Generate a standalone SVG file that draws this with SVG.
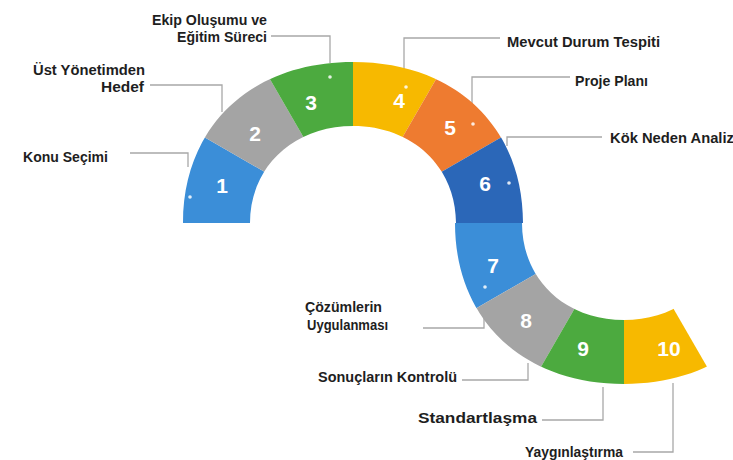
<svg xmlns="http://www.w3.org/2000/svg" xmlns:xlink="http://www.w3.org/1999/xlink" width="733" height="460" viewBox="0 0 733 460">
<style>
.lbl{font-family:"Liberation Sans",Arial,sans-serif;font-weight:bold;font-size:14px;fill:#1e1e1e}
.num{font-family:"Liberation Sans",Arial,sans-serif;font-weight:bold;font-size:21px;fill:#ffffff;text-anchor:middle}
.lead{fill:none;stroke:#a8a8a8;stroke-width:1.3}
.dot{fill:#ffffff;opacity:0.85}
.blue{fill:#3b8ed8}.gray{fill:#a4a4a4}.green{fill:#4caa3f}.gold{fill:#f7b900}.orange{fill:#ee7b30}.dblue{fill:#2b67b8}
</style>
<defs>
<path id="upperBand" d="M183,223 C183,126.4 251,62 353,62 C455,62 523,126.4 523,223 L456,223 C456,167 412.7,126 353,126 C293.3,126 250,167 250,223 Z"/>
<path id="lowerBand" d="M455,223 C455,319.6 522.6,384 624,384 C725.4,384 793,319.6 793,223 L726,223 C726,279.3 683.2,320 624,320 C564.8,320 522,279.3 522,223 Z"/>
<clipPath id="w1"><polygon points="353,223 33,235 75.9,63"/></clipPath>
<clipPath id="w2"><polygon points="353,223 75.9,63 193,-54.1"/></clipPath>
<clipPath id="w3"><polygon points="353,223 193,-54.1 353,-97"/></clipPath>
<clipPath id="w4"><polygon points="353,223 353,-97 513,-54.1"/></clipPath>
<clipPath id="w5"><polygon points="353,223 513,-54.1 630.1,63"/></clipPath>
<clipPath id="w6"><polygon points="353,223 630.1,63 673,235"/></clipPath>
<clipPath id="w7"><polygon points="624,223 304,211 346.9,383"/></clipPath>
<clipPath id="w8"><polygon points="624,223 346.9,383 464,500.1"/></clipPath>
<clipPath id="w9"><polygon points="624,223 464,500.1 624,543"/></clipPath>
<clipPath id="w10"><polygon points="624,223 624,543 784,500.1"/></clipPath>
</defs>
<rect width="733" height="460" fill="#ffffff"/>
<g id="connectors">
<path class="lead" d="M130,153 H188 V167"/>
<path class="lead" d="M150,85 H222 V112"/>
<path class="lead" d="M271,36 H330 V63"/>
<path class="lead" d="M500,38 H404 V83"/>
<path class="lead" d="M570,77 H472 V115"/>
<path class="lead" d="M602,137 H507 V146"/>
<path class="lead" d="M423,328 H484 V317"/>
<path class="lead" d="M462,380 H528 V363"/>
<path class="lead" d="M542,420 H603 V387"/>
<path class="lead" d="M633,452 H673 V383"/>
</g>
<g id="step1"><use xlink:href="#upperBand" class="blue" clip-path="url(#w1)"/><text class="num" x="222" y="193">1</text><circle class="dot" cx="190" cy="197" r="1.8"/></g>
<g id="step2"><use xlink:href="#upperBand" class="gray" clip-path="url(#w2)"/><text class="num" x="255" y="141">2</text></g>
<g id="step3"><use xlink:href="#upperBand" class="green" clip-path="url(#w3)"/><text class="num" x="311" y="110">3</text><circle class="dot" cx="330" cy="77" r="1.8"/></g>
<g id="step4"><use xlink:href="#upperBand" class="gold" clip-path="url(#w4)"/><text class="num" x="399" y="108">4</text><circle class="dot" cx="406" cy="87" r="1.8"/></g>
<g id="step5"><use xlink:href="#upperBand" class="orange" clip-path="url(#w5)"/><text class="num" x="450" y="135">5</text><circle class="dot" cx="473" cy="124" r="1.8"/></g>
<g id="step6"><use xlink:href="#upperBand" class="dblue" clip-path="url(#w6)"/><text class="num" x="485" y="191">6</text><circle class="dot" cx="509" cy="183" r="1.8"/></g>
<g id="step7"><use xlink:href="#lowerBand" class="blue" clip-path="url(#w7)"/><text class="num" x="493" y="273">7</text><circle class="dot" cx="485" cy="287" r="1.8"/></g>
<g id="step8"><use xlink:href="#lowerBand" class="gray" clip-path="url(#w8)"/><text class="num" x="526" y="328">8</text></g>
<g id="step9"><use xlink:href="#lowerBand" class="green" clip-path="url(#w9)"/><text class="num" x="583" y="356">9</text></g>
<g id="step10"><use xlink:href="#lowerBand" class="gold" clip-path="url(#w10)"/><text class="num" x="669" y="356">10</text></g>
<g id="labels">
<text class="lbl" x="23" y="162" textLength="85" lengthAdjust="spacingAndGlyphs">Konu Seçimi</text>
<text class="lbl" x="33" y="75" textLength="112" lengthAdjust="spacingAndGlyphs">Üst Yönetimden</text>
<text class="lbl" x="101" y="92" textLength="43" lengthAdjust="spacingAndGlyphs">Hedef</text>
<text class="lbl" x="152" y="25" textLength="115" lengthAdjust="spacingAndGlyphs">Ekip Oluşumu ve</text>
<text class="lbl" x="177" y="42" textLength="90" lengthAdjust="spacingAndGlyphs">Eğitim Süreci</text>
<text class="lbl" x="507" y="47" textLength="153" lengthAdjust="spacingAndGlyphs">Mevcut Durum Tespiti</text>
<text class="lbl" x="575" y="86" textLength="73" lengthAdjust="spacingAndGlyphs">Proje Planı</text>
<text class="lbl" x="610" y="143" textLength="128" lengthAdjust="spacingAndGlyphs">Kök Neden Analizi</text>
<text class="lbl" x="305" y="312" textLength="77" lengthAdjust="spacingAndGlyphs">Çözümlerin</text>
<text class="lbl" x="307" y="330" textLength="81" lengthAdjust="spacingAndGlyphs">Uygulanması</text>
<text class="lbl" x="318" y="382" textLength="139" lengthAdjust="spacingAndGlyphs">Sonuçların Kontrolü</text>
<text class="lbl" x="418" y="423" textLength="119" lengthAdjust="spacingAndGlyphs">Standartlaşma</text>
<text class="lbl" x="525" y="457" textLength="98" lengthAdjust="spacingAndGlyphs">Yaygınlaştırma</text>
</g>
</svg>
